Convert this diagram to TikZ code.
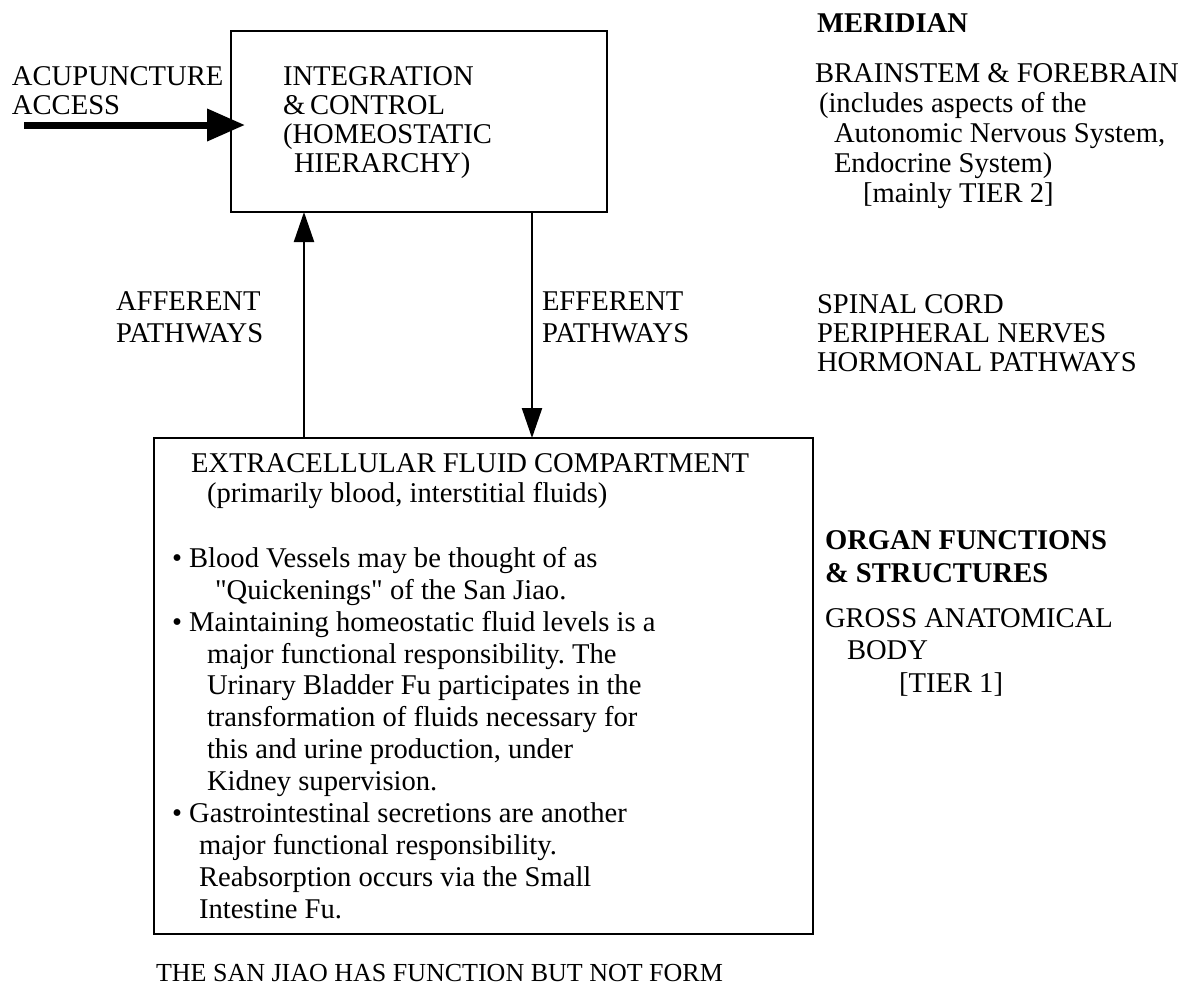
\documentclass[tikz,border=0pt]{standalone}
\usepackage{fontspec}
\setmainfont{Liberation Serif}
\usetikzlibrary{arrows.meta}
\frenchspacing
\begin{document}
\begin{tikzpicture}[x=1pt,y=-1pt,
  txt/.style={anchor=base west, inner sep=0pt, outer sep=0pt, font=\fontsize{28.6}{32}\selectfont},
  btxt/.style={txt, font=\fontsize{28.6}{32}\selectfont\bfseries},
  ftxt/.style={txt, font=\fontsize{26}{30}\selectfont},
  boxst/.style={draw, line width=2.2pt, anchor=north west, inner sep=0pt, outer sep=0pt},
  arr/.style={line width=2.2pt, -{Triangle[length=30pt,width=20pt]}},
  bigarr/.style={line width=7pt, -{Triangle[length=38pt,width=31pt]}}]
\useasboundingbox (0,0) rectangle (1189,986);

% boxes
\node[boxst, minimum width=376pt, minimum height=181pt] (topbox) at (231,31) {};
\node[boxst, line width=2.6pt, minimum width=659pt, minimum height=496pt] (botbox) at (154,438) {};

% helper coordinates
\coordinate (afx) at (304,0);
\coordinate (efx) at (532,0);
\coordinate (acstart) at (24,125);

% connectors
\draw[arr] (botbox.north -| afx) -- (topbox.south -| afx);
\draw[arr] (topbox.south -| efx) -- (botbox.north -| efx);
\draw[bigarr] (acstart) -- ([xshift=14pt]acstart -| topbox.west);

% left texts
\node[txt] (acu1) at (12,85) {ACUPUNCTURE};
\node[txt] (acu2) at (12,114) {ACCESS};

% top box texts
\node[txt] (int1) at (283,85) {INTEGRATION};
\node[txt] (int2) at (283,114) {\&\,CONTROL};
\node[txt] (int3) at (283,143) {(HOMEOSTATIC};
\node[txt] (int4) at (294,172) {HIERARCHY)};

% pathway labels
\node[txt] (aff1) at (116,310) {AFFERENT};
\node[txt] (aff2) at (116,342) {PATHWAYS};
\node[txt] (eff1) at (542,310) {EFFERENT};
\node[txt] (eff2) at (542,342) {PATHWAYS};

% right column
\node[btxt] (mer) at (817,32) {MERIDIAN};
\node[txt] (br1) at (815,82) {BRAINSTEM \& FOREBRAIN};
\node[txt] (br2) at (819,112) {(includes aspects of the};
\node[txt] (br3) at (834,142) {Autonomic Nervous System,};
\node[txt] (br4) at (834,172) {Endocrine System)};
\node[txt] (br5) at (863,202) {[mainly TIER 2]};
\node[txt] (sp1) at (817,313) {SPINAL CORD};
\node[txt] (sp2) at (817,342) {PERIPHERAL NERVES};
\node[txt] (sp3) at (817,371) {HORMONAL PATHWAYS};
\node[btxt] (org1) at (825,549) {ORGAN FUNCTIONS};
\node[btxt] (org2) at (825,582) {\& STRUCTURES};
\node[txt] (gr1) at (825,627) {GROSS ANATOMICAL};
\node[txt] (gr2) at (847,659) {BODY};
\node[txt] (gr3) at (899,692) {[TIER 1]};

% bottom box texts
\node[txt] (ex1) at (191,472) {EXTRACELLULAR FLUID COMPARTMENT};
\node[txt] (ex2) at (207,502) {(primarily blood, interstitial fluids)};
\node[txt] (b1) at (172,567) {• Blood Vessels may be thought of as};
\node[txt] (b2) at (215,599) {\textquotedbl Quickenings\textquotedbl{} of the San Jiao.};
\node[txt] (b3) at (172,631) {• Maintaining homeostatic fluid levels is a};
\node[txt] (b4) at (207,663) {major functional responsibility. The};
\node[txt] (b5) at (207,694) {Urinary Bladder Fu participates in the};
\node[txt] (b6) at (207,726) {transformation of fluids necessary for};
\node[txt] (b7) at (207,758) {this and urine production, under};
\node[txt] (b8) at (207,790) {Kidney supervision.};
\node[txt] (b9) at (172,822) {• Gastrointestinal secretions are another};
\node[txt] (b10) at (199,854) {major functional responsibility.};
\node[txt] (b11) at (199,886) {Reabsorption occurs via the Small};
\node[txt] (b12) at (199,918) {Intestine Fu.};

% footer
\node[ftxt] (foot) at (156,981) {THE SAN JIAO HAS FUNCTION BUT NOT FORM};
\end{tikzpicture}
\end{document}
